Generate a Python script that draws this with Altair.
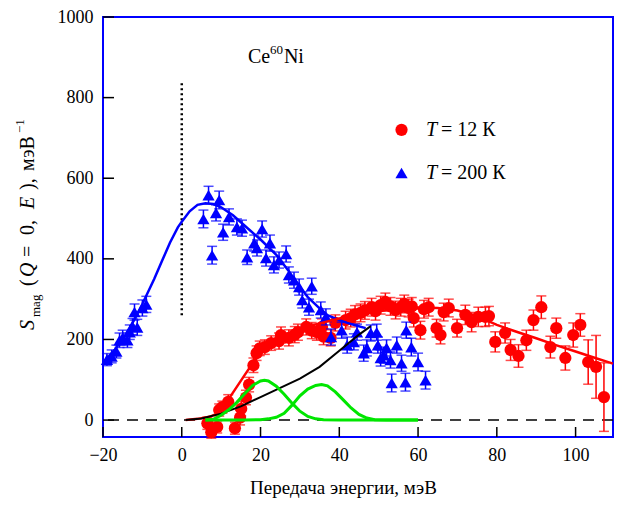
import altair as alt
import pandas as pd

# ---------------- data ----------------
x_ticks = [-20, 0, 20, 40, 60, 80, 100]
y_ticks = [0, 200, 400, 600, 800, 1000]

# T = 200 K (blue triangles)
blue_x = [-19.0, -17.8, -16.6, -15.8, -15.0, -13.8, -13.2, -12.5, -12.0, -11.3, -10.0, -9.0,
          5.5, 6.8, 7.7, 8.7, 9.5, 10.5, 12.0, 14.0, 15.3, 16.6, 18.4, 19.1, 20.4, 21.4,
          22.4, 23.4, 24.7, 26.5, 27.2, 28.5, 29.8, 30.6, 32.3, 33.0, 35.3, 36.6, 37.9,
          40.6, 42.0, 43.7, 44.5, 46.2, 47.0, 48.0, 49.5, 49.8, 50.5, 51.3, 52.0, 53.0,
          53.3, 54.6, 55.8, 56.8, 57.0, 58.3, 60.0, 61.9]
blue_y = [150, 158, 170, 198, 205, 198, 218, 232, 268, 230, 278, 287,
          499, 558, 409, 514, 546, 466, 504, 479, 476, 404, 439, 427, 474, 402,
          439, 385, 397, 412, 360, 347, 330, 298, 280, 332, 273, 256, 206,
          223, 186, 194, 218, 166, 179, 216, 218, 186, 154, 161, 179, 149,
          92, 186, 141, 94, 223, 181, 144, 99]
blue_err = [15, 16, 16, 18, 18, 18, 18, 20, 20, 20, 20, 20,
            22, 22, 22, 20, 22, 20, 20, 20, 20, 18, 20, 20, 20, 20,
            20, 20, 20, 20, 20, 20, 20, 20, 20, 20, 20, 20, 20,
            20, 20, 20, 20, 20, 20, 20, 20, 20, 20, 20, 20, 20,
            22, 20, 20, 22, 20, 22, 22, 22]

# T = 12 K (red circles)
red_x = [6.5, 7.5, 9.0, 9.5, 10.3, 11.8, 13.5, 14.8, 15.1, 16.3, 17.1, 18.2, 19.0, 19.8,
         21.1, 22.7, 24.7, 25.2, 27.2, 28.7, 29.5, 31.6, 33.0, 34.3, 35.6, 36.0, 37.8,
         39.0, 41.6, 42.9, 44.0, 45.4, 46.5, 48.2, 49.2, 50.5, 51.7, 53.0, 54.3, 55.6,
         56.5, 57.6, 58.4, 58.9, 60.6, 61.5, 62.7, 64.7, 65.7, 66.5, 67.8, 69.9, 72.0,
         73.6, 75.3, 77.1, 78.0, 79.6, 82.1, 83.5, 85.5, 87.5, 89.3, 91.3, 93.6, 95.1,
         97.4, 99.4, 101.2, 103.2, 105.2, 107.2]
red_y = [-8, -30, -17, 25, 32, 45, -20, 6, 28, 56, 88, 136, 166, 178,
         181, 191, 196, 211, 204, 212, 218, 231, 222, 218, 231, 207, 204,
         241, 248, 253, 262, 266, 272, 280, 270, 285, 293, 282, 273, 280,
         288, 278, 282, 253, 223, 275, 280, 228, 211, 268, 278, 228, 261,
         243, 256, 256, 258, 194, 216, 174, 159, 198, 248, 280, 181, 228,
         154, 211, 236, 144, 132, 57]
red_err = [15, 15, 15, 15, 15, 18, 15, 18, 18, 18, 18, 18, 18, 18,
           18, 18, 20, 20, 20, 20, 20, 20, 20, 20, 20, 20, 20,
           20, 22, 22, 22, 22, 22, 22, 22, 22, 22, 22, 22, 22,
           22, 22, 22, 22, 22, 22, 22, 22, 22, 22, 22, 22, 24,
           24, 24, 24, 24, 25, 25, 26, 28, 25, 25, 28, 27, 25,
           30, 30, 28, 55, 78, 85]

# fitted curves
blue_fit_x = [-20, -17, -15, -12, -10, -7, -5, -3, -1, 0, 2, 4, 6, 8, 10, 13, 16, 20, 24,
              27, 30, 32, 35, 37, 40, 42, 44.5, 46.7]
blue_fit_y = [142, 175, 200, 250, 288, 350, 395, 440, 478, 492, 518, 534, 538, 536, 528,
              508, 482, 448, 410, 372, 330, 305, 277, 260, 248, 241, 234, 228]

red_fit_x = [1, 4, 7, 9, 10, 13, 16, 19, 21, 24, 27, 30, 35, 40, 45, 50, 55, 60, 65, 70,
             75, 80, 85, 90, 95, 100, 105, 109.5]
red_fit_y = [0, 3, 8, 16, 25, 68, 112, 155, 175, 198, 214, 226, 240, 252, 262, 270, 276,
             279, 278, 272, 258, 236, 219, 203, 186, 170, 154, 140]

black_x = [1, 5, 10, 15, 20, 25, 30, 35, 40, 45, 48]
black_y = [0, 4, 16, 34, 57, 80, 103, 132, 172, 212, 233]

green1_x = [6, 8, 10, 12, 14, 16, 18, 20, 21, 22, 24, 26, 28, 30, 32, 34, 36, 40, 50, 60]
green1_y = [0, 2, 12, 26, 44, 66, 86, 97, 99, 97, 84, 64, 42, 22, 9, 3, 1, 0, 0, 0]

green2_x = [6, 16, 20, 22, 24, 26, 28, 30, 32, 34, 35.5, 37, 39, 41, 43, 45, 47, 49, 52, 60]
green2_y = [0, 0, 1, 3, 7, 17, 37, 60, 77, 86, 88, 85, 70, 50, 30, 14, 5, 1, 0, 0]

zero_y = [0]
dotted_x = [0]
dotted_y = [260, 840]

# annotations (data coordinates)
legend_marker_x = [55.8]
legend_y = [720, 613]
legend_text_x = [62.0]
legend_labels = ["= 12 К", "= 200 К"]
ce_x = [16.8]
ce_y = [885]

# ---------------- chart ----------------
FONT = "Liberation Serif"
xs = alt.Scale(domain=[-20, 109.5], nice=False, zero=False)
ys = alt.Scale(domain=[-42, 1000], nice=False, zero=False)
xaxis = alt.Axis(values=x_ticks, format="d", title="Передача энергии, мэВ", ticks=False,
                 domain=False, grid=False, labelPadding=9, titleX=240, titleY=56,
                 titleBaseline="alphabetic", labelFlush=False)
yaxis = alt.Axis(values=y_ticks, format="d", title=None, ticks=False, domain=False, grid=False,
                 labelPadding=10, labelFlush=False)


def X(f="x"):
    return alt.X(f, type="quantitative", scale=xs, axis=xaxis)


def Y(f="y"):
    return alt.Y(f, type="quantitative", scale=ys, axis=yaxis)


blue = pd.DataFrame({"x": blue_x, "y": blue_y, "err": blue_err})
blue["lo"] = blue["y"] - blue["err"]
blue["hi"] = blue["y"] + blue["err"]
red = pd.DataFrame({"x": red_x, "y": red_y, "err": red_err})
red["lo"] = red["y"] - red["err"]
red["hi"] = red["y"] + red["err"]

RED = "#ff0000"
BLUE = "#0000ff"
GREEN = "#00e600"

layers = []

# dashed zero line
layers.append(alt.Chart(pd.DataFrame({"y": zero_y})).mark_rule(
    color="black", strokeWidth=1.5, strokeDash=[11, 8]).encode(y=Y()))
# dotted vertical line
layers.append(alt.Chart(pd.DataFrame({"x": dotted_x, "y": [dotted_y[0]], "y2": [dotted_y[1]]}))
              .mark_rule(color="black", strokeWidth=2.5, strokeDash=[2, 3])
              .encode(x=X(), y=Y(), y2="y2:Q"))

# red data
layers.append(alt.Chart(red).mark_rule(color=RED, strokeWidth=1.5).encode(x=X(), y=Y("lo"), y2="hi:Q"))
layers.append(alt.Chart(red).mark_tick(color=RED, orient="horizontal", size=10, thickness=1.5)
              .encode(x=X(), y=Y("lo")))
layers.append(alt.Chart(red).mark_tick(color=RED, orient="horizontal", size=10, thickness=1.5)
              .encode(x=X(), y=Y("hi")))
layers.append(alt.Chart(red).mark_point(shape="circle", filled=True, size=150, color=RED, opacity=1)
              .encode(x=X(), y=Y()))

# blue fit + data
layers.append(alt.Chart(pd.DataFrame({"x": blue_fit_x, "y": blue_fit_y}))
              .mark_line(color=BLUE, strokeWidth=2.5).encode(x=X(), y=Y()))
layers.append(alt.Chart(blue).mark_rule(color=BLUE, strokeWidth=1.5).encode(x=X(), y=Y("lo"), y2="hi:Q"))
layers.append(alt.Chart(blue).mark_tick(color=BLUE, orient="horizontal", size=10, thickness=1.5)
              .encode(x=X(), y=Y("lo")))
layers.append(alt.Chart(blue).mark_tick(color=BLUE, orient="horizontal", size=10, thickness=1.5)
              .encode(x=X(), y=Y("hi")))
layers.append(alt.Chart(blue).mark_point(shape="triangle-up", filled=True, size=150, color=BLUE, opacity=1)
              .encode(x=X(), y=Y()))

# fits
layers.append(alt.Chart(pd.DataFrame({"x": red_fit_x, "y": red_fit_y}))
              .mark_line(color=RED, strokeWidth=2.5).encode(x=X(), y=Y()))
layers.append(alt.Chart(pd.DataFrame({"x": black_x, "y": black_y}))
              .mark_line(color="black", strokeWidth=2).encode(x=X(), y=Y()))
layers.append(alt.Chart(pd.DataFrame({"x": green1_x, "y": green1_y}))
              .mark_line(color=GREEN, strokeWidth=3).encode(x=X(), y=Y()))
layers.append(alt.Chart(pd.DataFrame({"x": green2_x, "y": green2_y}))
              .mark_line(color=GREEN, strokeWidth=3).encode(x=X(), y=Y()))

# inner ticks
layers.append(alt.Chart(pd.DataFrame({"x": x_ticks})).mark_rule(color="black", strokeWidth=1.5)
              .encode(x=X(), y=alt.value(420), y2=alt.value(410)))
layers.append(alt.Chart(pd.DataFrame({"y": y_ticks})).mark_rule(color="black", strokeWidth=1.5)
              .encode(y=Y(), x=alt.value(0), x2=alt.value(11)))

# legend
layers.append(alt.Chart(pd.DataFrame({"x": legend_marker_x, "y": [legend_y[0]]}))
              .mark_point(shape="circle", filled=True, size=150, color=RED, opacity=1)
              .encode(x=X(), y=Y()))
layers.append(alt.Chart(pd.DataFrame({"x": legend_marker_x, "y": [legend_y[1]]}))
              .mark_point(shape="triangle-up", filled=True, size=150, color=BLUE, opacity=1)
              .encode(x=X(), y=Y()))
leg = pd.DataFrame({"x": legend_text_x * 2, "y": legend_y, "t": ["T", "T"], "rest": legend_labels})
layers.append(alt.Chart(leg).mark_text(font=FONT, fontSize=20, fontStyle="italic", align="left",
                                       baseline="middle", color="black")
              .encode(x=X(), y=Y(), text="t:N"))
layers.append(alt.Chart(leg).mark_text(font=FONT, fontSize=20, align="left", baseline="middle",
                                       color="black", dx=15)
              .encode(x=X(), y=Y(), text="rest:N"))

# Ce60Ni label
ce = pd.DataFrame({"x": ce_x, "y": ce_y})
layers.append(alt.Chart(ce).mark_text(font=FONT, fontSize=20, align="left", baseline="alphabetic",
                                      color="black", text="Ce").encode(x=X(), y=Y()))
layers.append(alt.Chart(ce).mark_text(font=FONT, fontSize=13, align="left", baseline="alphabetic",
                                      color="black", text="60", dx=22, dy=-9).encode(x=X(), y=Y()))
layers.append(alt.Chart(ce).mark_text(font=FONT, fontSize=20, align="left", baseline="alphabetic",
                                      color="black", text="Ni", dx=36).encode(x=X(), y=Y()))

# y-axis title built from pieces (rotated)
one = pd.DataFrame({"a": [0]})
pieces = [
    ("S", 313, -75, 20, "italic"),
    ("mag", 300, -67, 13, "normal"),
    ("(", 269, -75, 20, "normal"),
    ("Q", 260, -75, 20, "italic"),
    ("=", 240, -75, 20, "normal"),
    ("0,", 218, -75, 20, "normal"),
    ("E", 192, -75, 20, "italic"),
    ("),", 173, -75, 20, "normal"),
    ("мэВ", 154, -75, 20, "normal"),
    ("−1", 116, -83, 13, "normal"),
]
for txt, py, px, fs, st in pieces:
    layers.append(alt.Chart(one).mark_text(font=FONT, fontSize=fs, fontStyle=st, angle=270,
                                           align="left", baseline="middle", color="black",
                                           text=txt)
                  .encode(x=alt.value(px), y=alt.value(py)))

chart = alt.layer(*layers).properties(
    width=510, height=420,
    autosize=alt.AutoSizeParams(type="none"),
    padding={"left": 103, "top": 17, "right": 5, "bottom": 69},
).configure_view(stroke=BLUE, strokeWidth=2).configure_axis(
    labelFont=FONT, labelFontSize=18, labelColor="black",
    titleFont=FONT, titleFontSize=19, titleFontWeight="normal", titleColor="black",
)

chart.save("out.html", embed_options={"renderer": "svg", "actions": False})
